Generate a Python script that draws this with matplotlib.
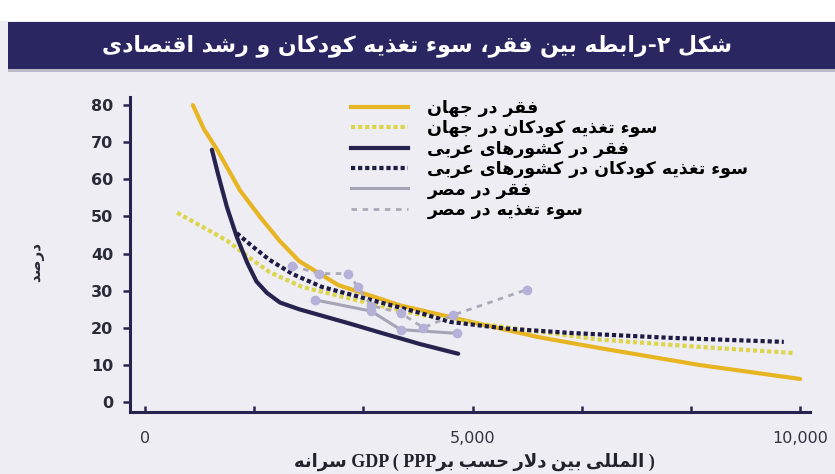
import matplotlib
matplotlib.use("Agg")
import matplotlib.pyplot as plt
from matplotlib.lines import Line2D
from matplotlib.patches import Rectangle

# --- datos ---
pobreza_mundo_x = [730, 900, 1100, 1450, 1750, 2050, 2350, 2950, 3900, 5000, 6000, 6950, 8450, 10000]
pobreza_mundo_y = [80, 73.5, 68, 57, 50, 43.5, 38, 31.5, 26, 21.5, 17.5, 14.5, 10, 6.2]

desnut_mundo_x = [490, 1000, 1250, 1600, 1900, 2400, 3400, 4200, 5000, 6950, 8500, 9900]
desnut_mundo_y = [51, 46, 43.5, 38.8, 35, 31, 26.7, 23.5, 21.3, 16.8, 14.8, 13.2]

pobreza_arabe_x = [1020, 1120, 1250, 1400, 1560, 1700, 1860, 2060, 2350, 2650, 3150, 3650, 4200, 4780]
pobreza_arabe_y = [68, 61, 52.5, 44.5, 37.5, 32.5, 29.4, 26.8, 25, 23.5, 21, 18.4, 15.6, 13]

desnut_arabe_x = [1400, 1600, 1900, 2250, 2700, 3450, 4200, 4650, 5500, 6500, 8000, 9750]
desnut_arabe_y = [45.5, 42.5, 38.3, 34.5, 31, 27.5, 24, 21.6, 19.8, 18.6, 17.3, 16.2]

pobreza_egipto_x = [2600, 3450, 3900, 4760]
pobreza_egipto_y = [27.5, 24.5, 19.5, 18.5]

desnut_egipto_x = [2250, 2650, 3100, 3250, 3450, 3900, 4250, 4700, 5830]
desnut_egipto_y = [36.7, 34.6, 34.6, 31, 26, 24, 20, 23.4, 30.3]

titulo = "شکل ۲-رابطه بین فقر، سوء تغذیه کودکان و رشد اقتصادی"
etiquetas = ["فقر در جهان", "سوء تغذیه کودکان در جهان", "فقر در کشورهای عربی",
             "سوء تغذیه کودکان در کشورهای عربی", "فقر در مصر", "سوء تغذیه در مصر"]
etiqueta_y = "درصد"
etiqueta_x = "سرانه GDP ( PPPبر حسب دلار بین المللی )"

# formas contextuales (aislada, final, inicial, media)
FORMAS = {
    'ء': (0xFE80,), 'آ': (0xFE81, 0xFE82), 'ا': (0xFE8D, 0xFE8E),
    'ب': (0xFE8F, 0xFE90, 0xFE91, 0xFE92), 'پ': (0xFB56, 0xFB57, 0xFB58, 0xFB59),
    'ت': (0xFE95, 0xFE96, 0xFE97, 0xFE98), 'ج': (0xFE9D, 0xFE9E, 0xFE9F, 0xFEA0),
    'ح': (0xFEA1, 0xFEA2, 0xFEA3, 0xFEA4), 'د': (0xFEA9, 0xFEAA), 'ذ': (0xFEAB, 0xFEAC),
    'ر': (0xFEAD, 0xFEAE), 'ز': (0xFEAF, 0xFEB0),
    'س': (0xFEB1, 0xFEB2, 0xFEB3, 0xFEB4), 'ش': (0xFEB5, 0xFEB6, 0xFEB7, 0xFEB8),
    'ص': (0xFEB9, 0xFEBA, 0xFEBB, 0xFEBC), 'ط': (0xFEC1, 0xFEC2, 0xFEC3, 0xFEC4),
    'ع': (0xFEC9, 0xFECA, 0xFECB, 0xFECC), 'غ': (0xFECD, 0xFECE, 0xFECF, 0xFED0),
    'ف': (0xFED1, 0xFED2, 0xFED3, 0xFED4), 'ق': (0xFED5, 0xFED6, 0xFED7, 0xFED8),
    'ک': (0xFB8E, 0xFB8F, 0xFB90, 0xFB91), 'گ': (0xFB92, 0xFB93, 0xFB94, 0xFB95),
    'ل': (0xFEDD, 0xFEDE, 0xFEDF, 0xFEE0), 'م': (0xFEE1, 0xFEE2, 0xFEE3, 0xFEE4),
    'ن': (0xFEE5, 0xFEE6, 0xFEE7, 0xFEE8), 'ه': (0xFEE9, 0xFEEA, 0xFEEB, 0xFEEC),
    'و': (0xFEED, 0xFEEE), 'ی': (0xFBFC, 0xFBFD, 0xFBFE, 0xFBFF),
}


def formar(tramo):
    # une las letras de un tramo árabe (orden lógico)
    out = []
    une_prev = False
    i = 0
    n = len(tramo)
    while i < n:
        c = tramo[i]
        if c == 'ل' and i + 1 < n and tramo[i + 1] in 'اآ':
            out.append(chr(0xFEFC if une_prev else 0xFEFB))
            une_prev = False
            i += 2
            continue
        f = FORMAS[c]
        une_sig = len(f) == 4 and i + 1 < n and len(FORMAS[tramo[i + 1]]) >= 2
        if len(f) == 1:
            out.append(chr(f[0]))
        elif une_prev and une_sig:
            out.append(chr(f[3]))
        elif une_prev:
            out.append(chr(f[1]))
        elif une_sig:
            out.append(chr(f[2]))
        else:
            out.append(chr(f[0]))
        une_prev = len(f) == 4
        i += 1
    return "".join(out)


def unir(texto):
    res, tramo = "", ""
    for c in texto:
        if c in FORMAS:
            tramo += c
        else:
            if tramo:
                res += formar(tramo)
                tramo = ""
            res += c
    if tramo:
        res += formar(tramo)
    return res


def rtl(texto):
    # texto persa completo, de derecha a izquierda
    return unir(texto)[::-1]


def por_palabra(texto):
    # cada palabra invertida por separado, orden de palabras como en la imagen
    partes = []
    for w in texto.split(" "):
        res, tramo = "", ""
        for c in w:
            if c in FORMAS:
                tramo += c
            else:
                if tramo:
                    res += formar(tramo)[::-1]
                    tramo = ""
                res += c
        if tramo:
            res += formar(tramo)[::-1]
        partes.append(res)
    return " ".join(partes)


navy = '#27234f'
fondo = '#eeedf3'

fig = plt.figure(figsize=(8.35, 4.74), dpi=100, facecolor=fondo)
# franja blanca superior y banda del título
fig.patches.append(Rectangle((0, 1 - 21 / 474), 1, 21 / 474, transform=fig.transFigure,
                             facecolor='white', edgecolor='none', zorder=0))
fig.patches.append(Rectangle((8 / 835, 1 - 69 / 474), 1, 47 / 474, transform=fig.transFigure,
                             facecolor='#2a2661', edgecolor='none', zorder=1))
fig.patches.append(Rectangle((8 / 835, 1 - 72 / 474), 1, 3 / 474, transform=fig.transFigure,
                             facecolor='#b9b8c4', edgecolor='none', zorder=1))
fig.text(0.5, 1 - 46 / 474, rtl(titulo), color='white', fontsize=15.8, fontweight='bold',
         ha='center', va='center', family='DejaVu Sans')

ax = fig.add_axes([130 / 835, 62 / 474, 680 / 835, 315 / 474])
ax.set_facecolor(fondo)

ax.plot(pobreza_mundo_x, pobreza_mundo_y, color='#e8b522', lw=3, solid_capstyle='round')
ax.plot(desnut_mundo_x, desnut_mundo_y, color='#dcd54a', lw=3, linestyle=(0, (1, 0.7)))
ax.plot(pobreza_arabe_x, pobreza_arabe_y, color=navy, lw=3, solid_capstyle='round')
ax.plot(desnut_arabe_x, desnut_arabe_y, color='#1d1a44', lw=3, linestyle=(0, (1, 0.7)))
ax.plot(pobreza_egipto_x, pobreza_egipto_y, color='#a5a4b6', lw=2.2,
        marker='o', ms=7, mfc='#b4b0d8', mec='none')
ax.plot(desnut_egipto_x, desnut_egipto_y, color='#aaa9b8', lw=2, linestyle=(0, (2, 2)),
        marker='o', ms=7, mfc='#b4b0d8', mec='none')

ax.set_xlim(-230, 10150)
ax.set_ylim(-2.7, 82.2)
for s in ['top', 'right']:
    ax.spines[s].set_visible(False)
for s in ['left', 'bottom']:
    ax.spines[s].set_color(navy)
    ax.spines[s].set_linewidth(2.2)

ax.set_yticks(range(0, 81, 10))
ax.set_xticks([0, 5000, 10000])
ax.set_xticklabels(['0', '5,000', '10,000'])
ax.set_xticks([1667, 3333, 6667, 8333], minor=True)
ax.tick_params(axis='y', direction='out', length=5, width=1.8, color=navy, pad=7,
               labelsize=11.5, labelcolor='#2b2b38')
for t in ax.get_yticklabels():
    t.set_fontweight('bold')
ax.tick_params(axis='x', which='both', direction='in', length=4, width=1.8, color=navy,
               pad=14, labelsize=11.5, labelcolor='#33333f')

manijas = [
    Line2D([], [], color='#e8b522', lw=3),
    Line2D([], [], color='#dcd54a', lw=3, linestyle=(0, (1, 0.7))),
    Line2D([], [], color=navy, lw=3),
    Line2D([], [], color='#1d1a44', lw=3, linestyle=(0, (1, 0.7))),
    Line2D([], [], color='#a5a4b6', lw=2.2),
    Line2D([], [], color='#aaa9b8', lw=2, linestyle=(0, (2, 2))),
]
ax.legend(manijas, [rtl(e) for e in etiquetas], loc='upper left',
          bbox_to_anchor=(351 / 835, 1 - 99 / 474), bbox_transform=fig.transFigure,
          frameon=False, borderpad=0, borderaxespad=0, handlelength=3.3,
          handletextpad=1.1, labelspacing=0.13,
          prop={'family': 'DejaVu Sans', 'weight': 'bold', 'size': 12.5})

fig.text(37 / 835, 1 - 262 / 474, rtl(etiqueta_y), rotation=90, ha='center', va='center',
         fontsize=11, fontweight='bold', color='#2b2b38', family='DejaVu Sans')
fig.text(474 / 835, 1 - 462 / 474, por_palabra(etiqueta_x), ha='center', va='center',
         fontsize=13, fontweight='bold', color='#22222c',
         family=['Liberation Serif', 'DejaVu Sans'])

fig.savefig('out.png', dpi=100, facecolor=fondo)
